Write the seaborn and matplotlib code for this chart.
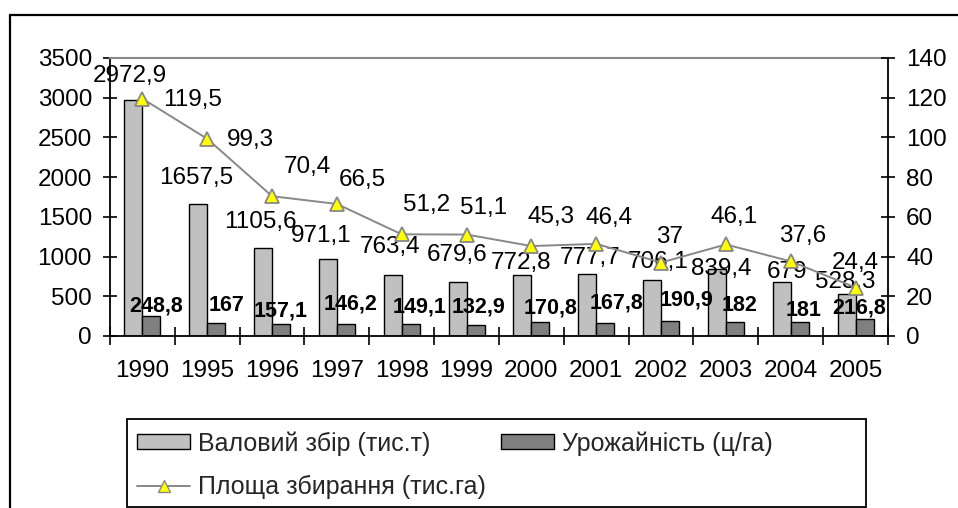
import numpy as np
import pandas as pd
import matplotlib
matplotlib.use("Agg")
import matplotlib.pyplot as plt
from matplotlib.patches import Patch, Rectangle
from matplotlib.lines import Line2D
import seaborn as sns

# ---- data ----
years = ["1990", "1995", "1996", "1997", "1998", "1999", "2000", "2001", "2002", "2003", "2004", "2005"]
gross = [2972.9, 1657.5, 1105.6, 971.1, 763.4, 679.6, 772.8, 777.7, 706.1, 839.4, 679, 528.3]
yield_ = [248.8, 167, 157.1, 146.2, 149.1, 132.9, 170.8, 167.8, 190.9, 182, 181, 216.8]
area = [119.5, 99.3, 70.4, 66.5, 51.2, 51.1, 45.3, 46.4, 37, 46.1, 37.6, 24.4]

name_gross = "Валовий збір (тис.т)"
name_yield = "Урожайність (ц/га)"
name_area = "Площа збирання (тис.га)"

# label offsets (pixels) as placed in the original
off_gross = [(-4, 24), (-2, 26), (-3, 26), (-7, 23), (-3, 28), (-1, 27), (-1, 12), (3, 16), (6, 18), (4, 0), (5, 10), (-1, 12)]
off_yield = [(5, 10), (10, 17), (0, 13), (5, 20), (9, 17), (3, 18), (10, 14), (11, 20), (16, 21), (5, 16), (4, 11), (-5, 11)]
off_area = [(50, -1), (43, -1), (35, 29), (25, 24), (25, 29), (17, 27), (20, 29), (13, 26), (8, 26), (8, 27), (12, 25), (0, 25)]

sns.set_theme(style="white")
plt.rcParams["font.family"] = ["Liberation Sans", "DejaVu Sans"]

W, H = 958, 508
fig = plt.figure(figsize=(W / 100, H / 100), dpi=100)
fig.patch.set_facecolor("white")

ax = fig.add_axes([110 / W, (H - 336) / H, (888 - 110) / W, (336 - 58) / H])

df = pd.DataFrame({
    "year": years * 2,
    "value": gross + yield_,
    "series": [name_gross] * len(years) + [name_yield] * len(years),
})

c_light = "#C0C0C0"
c_dark = "#808080"
sns.barplot(data=df, x="year", y="value", hue="series", order=years,
            hue_order=[name_gross, name_yield], palette=[c_light, c_dark],
            width=0.555, edgecolor="black", linewidth=1.0, saturation=1,
            legend=False, ax=ax)

ax.set_ylim(0, 3500)
ax.set_yticks(np.arange(0, 3501, 500))
ax.set_xlim(-0.5, len(years) - 0.5)
ax.set_xlabel("")
ax.set_ylabel("")

# bar labels
fs = 17.5
for cont, vals, offs, bold in [(ax.containers[0], gross, off_gross, False),
                               (ax.containers[1], yield_, off_yield, True)]:
    for bar, v, (dx, dy) in zip(cont, vals, offs):
        xc = bar.get_x() + bar.get_width() / 2
        ax.annotate(f"{v:g}".replace(".", ","), xy=(xc, bar.get_height()),
                    xytext=(dx, dy), textcoords="offset pixels",
                    ha="center", va="center",
                    fontsize=15.5 if bold else fs,
                    fontweight="bold" if bold else "normal",
                    color="black", annotation_clip=False)

# line on secondary axis
ax2 = ax.twinx()
pos = np.arange(len(years))
sns.lineplot(x=pos, y=area, ax=ax2, color="#888888", linewidth=1.4,
             marker="^", markersize=10, markerfacecolor="#FFFF00",
             markeredgecolor="#888888", markeredgewidth=1.3)
ax2.set_ylim(0, 140)
ax2.set_yticks(np.arange(0, 141, 20))
ax2.set_xlim(-0.5, len(years) - 0.5)
ax2.set_xlabel("")
ax2.set_ylabel("")
for x, v, (dx, dy) in zip(pos, area, off_area):
    ax2.annotate(f"{v:g}".replace(".", ","), xy=(x, v), xytext=(dx, dy),
                 textcoords="offset pixels", ha="center", va="center",
                 fontsize=fs, color="black", annotation_clip=False)

# spines
for a in (ax, ax2):
    a.set_facecolor("none")
ax.spines["left"].set_color("black")
ax.spines["left"].set_linewidth(1.3)
ax.spines["bottom"].set_color("black")
ax.spines["bottom"].set_linewidth(1.3)
ax.spines["top"].set_color("#888888")
ax.spines["top"].set_linewidth(1.5)
ax.spines["right"].set_visible(False)
ax2.spines["right"].set_color("black")
ax2.spines["right"].set_linewidth(1.3)
for s in ("left", "top", "bottom"):
    ax2.spines[s].set_visible(False)

# ticks
ax.tick_params(axis="y", which="major", direction="inout", length=10, width=1.2,
               color="black", labelsize=fs, labelcolor="black", pad=8, left=True)
ax2.tick_params(axis="y", which="major", direction="inout", length=10, width=1.2,
                color="black", labelsize=fs, labelcolor="black", pad=8, right=True)
ax.set_xticks(np.arange(-0.5, len(years), 1.0), minor=True)
ax.tick_params(axis="x", which="major", length=0, labelsize=fs, labelcolor="black", pad=17)
ax.tick_params(axis="x", which="minor", direction="inout", length=13, width=1.2,
               color="black", bottom=True)
ax2.tick_params(axis="x", which="both", bottom=False, top=False, labelbottom=False)
ax.grid(False)
ax2.grid(False)

# legend
handles = [
    Patch(facecolor=c_light, edgecolor="black", linewidth=1.0, label=name_gross),
    Line2D([0], [0], color="#888888", linewidth=1.4, marker="^", markersize=8,
           markerfacecolor="#FFFF00", markeredgecolor="#888888", label=name_area),
    Patch(facecolor=c_dark, edgecolor="black", linewidth=1.0, label=name_yield),
]
fig.legend(handles=handles, ncol=2, loc="upper left",
           bbox_to_anchor=(137 / W, (H - 431) / H), frameon=False,
           fontsize=18, handlelength=2.12, handleheight=0.56, handletextpad=0.32,
           columnspacing=0.6, labelspacing=0.78, borderpad=0, borderaxespad=0)
fig.patches.append(Rectangle((127 / W, (H - 507) / H), (866 - 127) / W, (507 - 419) / H,
                             transform=fig.transFigure, facecolor="none",
                             edgecolor="black", linewidth=1.3))

# outer chart frame (left and top edges visible)
fig.lines.append(Line2D([9.5 / W, 9.5 / W], [0, (H - 15) / H], transform=fig.transFigure,
                        color="black", linewidth=1.6))
fig.lines.append(Line2D([9.5 / W, 1], [(H - 15) / H, (H - 15) / H], transform=fig.transFigure,
                        color="black", linewidth=1.6))

fig.savefig("out.png", dpi=100, facecolor="white")
